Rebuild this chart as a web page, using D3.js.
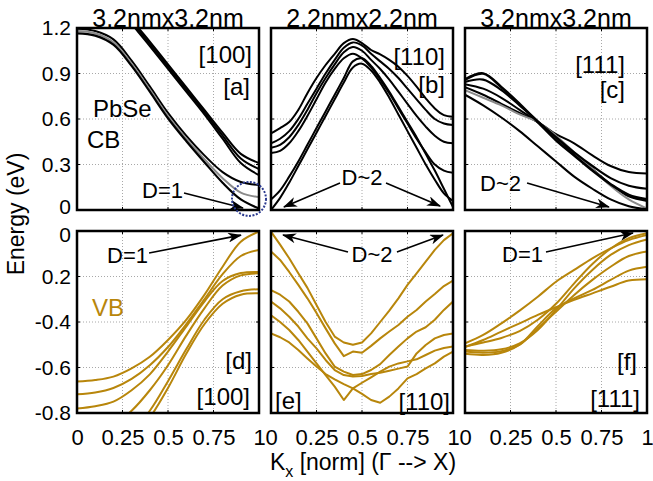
<!DOCTYPE html>
<html>
<head>
<meta charset="utf-8">
<script src="https://cdn.jsdelivr.net/npm/d3@7"></script>
<style>
  body { margin: 0; background: #fff; }
  text { font-family: "Liberation Sans", Arial, Helvetica, sans-serif; }
</style>
</head>
<body>
<svg id="chart" width="653" height="481"></svg>
<script>
// ---- wave-vector grids (normalised, Γ -> X) ----
const kCoarse = [0, 0.1, 0.2, 0.3, 0.4, 0.5, 0.6, 0.7, 0.8, 0.9, 1];
const kFine = [0, 0.05, 0.1, 0.15, 0.2, 0.25, 0.3, 0.35, 0.4, 0.45, 0.5,
               0.55, 0.6, 0.65, 0.7, 0.75, 0.8, 0.85, 0.9, 0.95, 1];

// ---- conduction band, 3.2nm x 3.2nm, [100] (eV) ----
const cb100_u1 = [1.55, 1.52, 1.45, 1.26, 1.11, 0.96, 0.81, 0.66, 0.51, 0.37, 0.31];
const cb100_u2 = [1.53, 1.50, 1.43, 1.245, 1.095, 0.945, 0.795, 0.645, 0.49, 0.34, 0.27];
const cb100_u3 = [1.51, 1.48, 1.41, 1.23, 1.08, 0.93, 0.78, 0.63, 0.47, 0.31, 0.23];
const cb100_l1 = [1.195, 1.18, 1.125, 0.985, 0.815, 0.64, 0.49, 0.36, 0.25, 0.185, 0.165];
const cb100_l2 = [1.18, 1.165, 1.105, 0.965, 0.795, 0.62, 0.47, 0.335, 0.21, 0.115, 0.085];
const cb100_l3 = [1.165, 1.15, 1.09, 0.95, 0.78, 0.605, 0.455, 0.315, 0.18, 0.07, 0.01];

// ---- conduction band, 2.2nm x 2.2nm, [110] (eV) ----
const cb110_1 = [0.505, 0.54, 0.58, 0.66, 0.77, 0.87, 0.956, 1.03, 1.1, 1.127, 1.10, 1.055, 1.026, 0.99, 0.945, 0.884, 0.813, 0.736, 0.67, 0.626, 0.615];
const cb110_2 = [0.44, 0.47, 0.52, 0.6, 0.7, 0.8, 0.9, 0.99, 1.07, 1.105, 1.085, 1.03, 0.98, 0.93, 0.87, 0.8, 0.73, 0.66, 0.6, 0.57, 0.56];
const cb110_3 = [0.41, 0.43, 0.48, 0.56, 0.66, 0.77, 0.87, 0.96, 1.04, 1.075, 1.05, 0.99, 0.93, 0.86, 0.78, 0.7, 0.62, 0.55, 0.49, 0.45, 0.44];
const cb110_4 = [0.375, 0.39, 0.44, 0.52, 0.62, 0.73, 0.84, 0.93, 1.0, 1.03, 1.0, 0.94, 0.86, 0.77, 0.67, 0.57, 0.47, 0.38, 0.3, 0.26, 0.245];
const cb110_5 = [0.07, 0.13, 0.22, 0.32, 0.43, 0.54, 0.65, 0.76, 0.87, 0.98, 1.0, 0.95, 0.87, 0.78, 0.68, 0.58, 0.48, 0.37, 0.26, 0.14, 0.02];
const cb110_6 = [0.0, 0.08, 0.18, 0.29, 0.4, 0.51, 0.62, 0.73, 0.84, 0.94, 0.965, 0.92, 0.84, 0.74, 0.63, 0.52, 0.41, 0.3, 0.2, 0.11, 0.06];

// ---- conduction band, 3.2nm x 3.2nm, [111] (eV) ----
const cb111_1 = [0.86, 0.90, 0.81, 0.70, 0.58, 0.46, 0.36, 0.26, 0.17, 0.10, 0.07];
const cb111_2 = [0.845, 0.86, 0.79, 0.69, 0.585, 0.48, 0.38, 0.29, 0.21, 0.16, 0.14];
const cb111_3 = [0.81, 0.76, 0.70, 0.64, 0.58, 0.50, 0.44, 0.36, 0.29, 0.25, 0.24];
const cb111_4 = [0.79, 0.74, 0.69, 0.63, 0.58, 0.49, 0.38, 0.27, 0.16, 0.07, 0.01];
const cb111_5 = [0.76, 0.69, 0.61, 0.52, 0.42, 0.32, 0.22, 0.14, 0.07, 0.025, 0.005];
const cb111_6 = [0.83, 0.80, 0.74, 0.66, 0.58, 0.48, 0.37, 0.27, 0.17, 0.09, 0.06];

// ---- valence band, [100] (eV) ----
const vb100_1 = [-0.662, -0.655, -0.64, -0.604, -0.553, -0.479, -0.391, -0.281, -0.157, -0.047, -0.003];
const vb100_2 = [-0.718, -0.71, -0.69, -0.65, -0.59, -0.51, -0.41, -0.3, -0.19, -0.11, -0.083];
const vb100_3 = [-0.78, -0.77, -0.75, -0.7, -0.63, -0.53, -0.42, -0.31, -0.22, -0.185, -0.18];
const vb100_4 = [-0.89, -0.88, -0.85, -0.79, -0.7, -0.59, -0.46, -0.34, -0.24, -0.195, -0.186];
const vb100_5 = [-0.99, -0.98, -0.94, -0.88, -0.79, -0.66, -0.52, -0.39, -0.3, -0.265, -0.256];
const vb100_6 = [-1.02, -1.01, -0.97, -0.91, -0.82, -0.69, -0.54, -0.41, -0.32, -0.28, -0.274];

// ---- valence band, [110] (eV) ----
const vb110_1 = [-0.003, -0.06, -0.12, -0.186, -0.25, -0.325, -0.4, -0.464, -0.49, -0.5, -0.49, -0.45, -0.4, -0.35, -0.296, -0.237, -0.186, -0.135, -0.083, -0.04, -0.01];
const vb110_2 = [-0.09, -0.127, -0.18, -0.237, -0.296, -0.36, -0.428, -0.494, -0.55, -0.53, -0.535, -0.505, -0.472, -0.442, -0.413, -0.377, -0.347, -0.31, -0.277, -0.242, -0.218];
const vb110_3 = [-0.26, -0.28, -0.31, -0.355, -0.406, -0.472, -0.538, -0.596, -0.618, -0.633, -0.629, -0.611, -0.585, -0.545, -0.508, -0.472, -0.442, -0.423, -0.39, -0.347, -0.31];
const vb110_4 = [-0.31, -0.34, -0.377, -0.42, -0.472, -0.516, -0.567, -0.611, -0.633, -0.64, -0.637, -0.629, -0.623, -0.614, -0.605, -0.596, -0.538, -0.501, -0.472, -0.457, -0.45];
const vb110_5 = [-0.37, -0.4, -0.435, -0.479, -0.53, -0.582, -0.633, -0.684, -0.743, -0.692, -0.667, -0.643, -0.618, -0.596, -0.582, -0.573, -0.564, -0.545, -0.526, -0.514, -0.508];
const vb110_6 = [-0.45, -0.467, -0.49, -0.523, -0.56, -0.596, -0.629, -0.652, -0.673, -0.692, -0.716, -0.743, -0.755, -0.728, -0.692, -0.648, -0.629, -0.604, -0.582, -0.552, -0.53];

// ---- valence band, [111] (eV) ----
const vb111_1 = [-0.494, -0.457, -0.406, -0.35, -0.289, -0.223, -0.171, -0.12, -0.076, -0.04, -0.018];
const vb111_2 = [-0.508, -0.49, -0.47, -0.44, -0.39, -0.32, -0.23, -0.145, -0.078, -0.032, -0.01];
const vb111_3 = [-0.523, -0.526, -0.52, -0.494, -0.435, -0.347, -0.252, -0.171, -0.105, -0.062, -0.037];
const vb111_4 = [-0.53, -0.535, -0.528, -0.5, -0.428, -0.355, -0.281, -0.215, -0.157, -0.11, -0.09];
const vb111_5 = [-0.54, -0.545, -0.535, -0.5, -0.418, -0.34, -0.296, -0.259, -0.215, -0.174, -0.157];
const vb111_6 = [-0.51, -0.479, -0.442, -0.406, -0.369, -0.335, -0.303, -0.274, -0.245, -0.218, -0.212];

// ---- tick values and labels ----
const kTicks = [0, 0.25, 0.5, 0.75, 1];
const kTickLabels = ["0", "0.25", "0.5", "0.75", "1"];
const cbTicks = [0, 0.3, 0.6, 0.9, 1.2];
const cbTickLabels = ["0", "0.3", "0.6", "0.9", "1.2"];
const vbTicks = [0, -0.2, -0.4, -0.6, -0.8];
const vbTickLabels = ["0", "0.2", "-0.4", "-0.6", "-0.8"];

const titles = ["3.2nmx3.2nm", "2.2nmx2.2nm", "3.2nmx3.2nm"];

// ---- layout ----
const W = 182, H = 182;
const colLeft = [77, 271, 465];
const rowTop = [28, 231];
const BLACK = "#000", GRAY = "#8a8a8a", GOLD = "#b8860b";

const svg = d3.select("#chart");
const x = d3.scaleLinear().domain([0, 1]).range([0, W]);
const yCB = d3.scaleLinear().domain([0, 1.2]).range([H, 0]);
const yVB = d3.scaleLinear().domain([-0.8, 0]).range([H, 0]);

const defs = svg.append("defs");
defs.append("clipPath").attr("id", "plotClip")
  .append("rect").attr("x", 0).attr("y", 0).attr("width", W).attr("height", H);
defs.append("marker").attr("id", "head")
  .attr("viewBox", "0 0 14 10").attr("refX", 13).attr("refY", 5)
  .attr("markerWidth", 14).attr("markerHeight", 10)
  .attr("markerUnits", "userSpaceOnUse").attr("orient", "auto")
  .append("path").attr("d", "M0,0 L14,5 L0,10 L4,5 Z").attr("fill", BLACK);

const panels = [
  { col: 0, row: 0, y: yCB, k: kCoarse, curve: d3.curveCatmullRom,
    series: [cb100_u1, cb100_u2, cb100_u3, cb100_l1, cb100_l2, cb100_l3],
    colors: [BLACK, BLACK, BLACK, BLACK, GRAY, BLACK], widths: [2, 2, 2, 2, 2, 2.2],
    labels: [{ t: "[100]", x: 175, y: 35, a: "end" }, { t: "[a]", x: 173, y: 67, a: "end" },
             { t: "PbSe", x: 16, y: 89, a: "start" }, { t: "CB", x: 10, y: 120, a: "start" },
             { t: "D=1", x: 65, y: 170, a: "start", fs: 22 }],
    arrows: [[0.588, 0.112, 0.912, 0.013]],
    circle: { k: 0.945, e: 0.073, r: 17 } },
  { col: 1, row: 0, y: yCB, k: kFine, curve: d3.curveCatmullRom,
    series: [cb110_1, cb110_2, cb110_3, cb110_4, cb110_5, cb110_6],
    colors: [BLACK, BLACK, BLACK, BLACK, BLACK, BLACK], widths: [2, 2, 2, 2, 2, 2],
    labels: [{ t: "[110]", x: 174, y: 37, a: "end" }, { t: "[b]", x: 174, y: 65, a: "end" },
             { t: "D~2", x: 91, y: 157, a: "middle", fs: 22 }],
    arrows: [[0.379, 0.178, 0.071, 0.02], [0.632, 0.178, 0.929, 0.026]] },
  { col: 2, row: 0, y: yCB, k: kCoarse, curve: d3.curveCatmullRom,
    series: [cb111_3, cb111_6, cb111_4, cb111_5, cb111_2, cb111_1],
    colors: [BLACK, BLACK, GRAY, BLACK, BLACK, BLACK], widths: [2, 2, 2, 2, 2.2, 2.6],
    labels: [{ t: "[111]", x: 160, y: 45, a: "end" }, { t: "[c]", x: 160, y: 70, a: "end" },
             { t: "D~2", x: 15, y: 163, a: "start", fs: 22 }],
    arrows: [[0.341, 0.178, 0.791, 0.02]] },
  { col: 0, row: 1, y: yVB, k: kCoarse, curve: d3.curveCatmullRom,
    series: [vb100_1, vb100_2, vb100_3, vb100_4, vb100_5, vb100_6],
    colors: Array(6).fill(GOLD), widths: Array(6).fill(2),
    labels: [{ t: "[d]", x: 175, y: 138, a: "end" }, { t: "[100]", x: 173, y: 174, a: "end" },
             { t: "VB", x: 15, y: 85, a: "start", fill: GOLD },
             { t: "D=1", x: 30, y: 32, a: "start", fs: 22 }],
    arrows: [[0.396, -0.097, 0.901, -0.018]] },
  { col: 1, row: 1, y: yVB, k: kFine, curve: d3.curveLinear,
    series: [vb110_1, vb110_2, vb110_3, vb110_4, vb110_5, vb110_6],
    colors: Array(6).fill(GOLD), widths: Array(6).fill(2),
    labels: [{ t: "[e]", x: 4, y: 178, a: "start" }, { t: "[110]", x: 179, y: 179, a: "end" },
             { t: "D~2", x: 101, y: 31, a: "middle", fs: 22 }],
    arrows: [[0.423, -0.092, 0.066, -0.018], [0.692, -0.092, 0.945, -0.018]] },
  { col: 2, row: 1, y: yVB, k: kCoarse, curve: d3.curveCatmullRom,
    series: [vb111_1, vb111_2, vb111_3, vb111_4, vb111_5, vb111_6],
    colors: Array(6).fill(GOLD), widths: Array(6).fill(2),
    labels: [{ t: "[f]", x: 172, y: 139, a: "end" }, { t: "[111]", x: 175, y: 176, a: "end" },
             { t: "D=1", x: 37, y: 31, a: "start", fs: 22 }],
    arrows: [[0.445, -0.092, 0.923, -0.009]] }
];

const gridK = [0.25, 0.5, 0.75];
const gridCB = [0.3, 0.6, 0.9];
const gridVB = [-0.2, -0.4, -0.6];

panels.forEach(p => {
  const g = svg.append("g").attr("transform", `translate(${colLeft[p.col]},${rowTop[p.row]})`);
  const y = p.y;
  const gy = p.row === 0 ? gridCB : gridVB;

  // dotted grid
  const grid = g.append("g").attr("stroke", "#a8a8a8").attr("stroke-width", 1)
    .attr("stroke-dasharray", "1,2");
  grid.selectAll(".gv").data(gridK).join("line")
    .attr("x1", d => x(d)).attr("x2", d => x(d)).attr("y1", 0).attr("y2", H);
  grid.selectAll(".gh").data(gy).join("line")
    .attr("x1", 0).attr("x2", W).attr("y1", d => y(d)).attr("y2", d => y(d));

  // band curves
  const line = d3.line().x((d, i) => x(p.k[i])).y(d => y(d)).curve(p.curve);
  const plot = g.append("g").attr("clip-path", "url(#plotClip)");
  p.series.forEach((s, i) => {
    plot.append("path").attr("d", line(s)).attr("fill", "none")
      .attr("stroke", p.colors[i]).attr("stroke-width", p.widths[i])
      .attr("stroke-linejoin", "round");
  });

  // inward tick marks
  const ticks = g.append("g").attr("stroke", BLACK).attr("stroke-width", 1);
  gridK.forEach(v => {
    ticks.append("line").attr("x1", x(v)).attr("x2", x(v)).attr("y1", H).attr("y2", H - 3);
    ticks.append("line").attr("x1", x(v)).attr("x2", x(v)).attr("y1", 0).attr("y2", 3);
  });
  gy.forEach(v => {
    ticks.append("line").attr("x1", 0).attr("x2", 3).attr("y1", y(v)).attr("y2", y(v));
    ticks.append("line").attr("x1", W).attr("x2", W - 3).attr("y1", y(v)).attr("y2", y(v));
  });

  // box
  g.append("rect").attr("x", 0).attr("y", 0).attr("width", W).attr("height", H)
    .attr("fill", "none").attr("stroke", BLACK).attr("stroke-width", 2.5);

  // axes
  if (p.col === 0) {
    const vals = p.row === 0 ? cbTicks : vbTicks;
    const labs = p.row === 0 ? cbTickLabels : vbTickLabels;
    const ax = g.append("g").call(d3.axisLeft(y).tickValues(vals)
      .tickFormat((d, i) => labs[i]).tickSize(0).tickPadding(6));
    ax.select(".domain").remove();
    ax.selectAll("text").attr("font-size", 21).attr("fill", BLACK)
      .attr("font-family", "Liberation Sans, Arial, sans-serif");
    // the two zero labels sit back to back between the rows; pull them apart
    ax.selectAll(".tick").filter(d => d === 0).select("text")
      .attr("y", p.row === 0 ? -3 : 4);
  }
  if (p.row === 1) {
    const ax = g.append("g").attr("transform", `translate(0,${H})`)
      .call(d3.axisBottom(x).tickValues(kTicks)
        .tickFormat((d, i) => kTickLabels[i]).tickSize(0).tickPadding(16));
    ax.select(".domain").remove();
    ax.selectAll("text").attr("font-size", 22).attr("fill", BLACK)
      .attr("font-family", "Liberation Sans, Arial, sans-serif");
  }
  if (p.row === 0) {
    g.append("text").attr("x", W / 2).attr("y", -1).attr("text-anchor", "middle")
      .attr("font-size", 25).attr("fill", BLACK).text(titles[p.col]);
  }

  // annotations
  p.labels.forEach(l => {
    g.append("text").attr("x", l.x).attr("y", l.y).attr("text-anchor", l.a)
      .attr("font-size", l.fs || 24).attr("fill", l.fill || BLACK).text(l.t);
  });
  p.arrows.forEach(a => {
    g.append("line").attr("x1", x(a[0])).attr("y1", y(a[1]))
      .attr("x2", x(a[2])).attr("y2", y(a[3]))
      .attr("stroke", BLACK).attr("stroke-width", 1.6).attr("marker-end", "url(#head)");
  });
  if (p.circle) {
    g.append("circle").attr("cx", x(p.circle.k)).attr("cy", y(p.circle.e)).attr("r", p.circle.r)
      .attr("fill", "none").attr("stroke", "#2b3a8f").attr("stroke-width", 2)
      .attr("stroke-dasharray", "2,1.5");
  }
});

// axis titles
svg.append("text").attr("transform", "translate(24,214) rotate(-90)")
  .attr("text-anchor", "middle").attr("font-size", 23).attr("fill", BLACK)
  .text("Energy (eV)");

const xt = svg.append("text").attr("x", 363).attr("y", 470).attr("text-anchor", "middle")
  .attr("font-size", 23).attr("fill", BLACK);
xt.append("tspan").text("K");
xt.append("tspan").attr("font-size", 16).attr("dy", 7).text("x");
xt.append("tspan").attr("dy", -7).text(" [norm] (Γ --> X)");
</script>
</body>
</html>
